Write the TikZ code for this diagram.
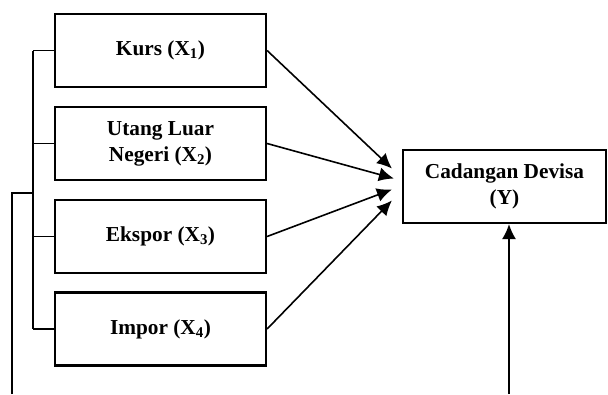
\documentclass[tikz,border=0pt]{standalone}
\usepackage{fontspec}
\setmainfont{Liberation Serif}
\usetikzlibrary{arrows.meta,calc}
\begin{document}
\begin{tikzpicture}[x=1pt,y=-1pt,
  box/.style={draw,line width=2.2pt,minimum width=211pt,minimum height=73pt,inner sep=0pt,align=center,font=\fontsize{21.3}{26}\selectfont\bfseries},
  ln/.style={line width=1.6pt},
  arr/.style={line width=1.6pt,-{Latex[length=15pt,width=14pt]}}]
\useasboundingbox (0,0) rectangle (608,394);
\node[box] (k) at (160.5,50.5) {Kurs (X\textsubscript{1})};
\node[box] (u) at (160.5,143.5) {Utang Luar\\Negeri (X\textsubscript{2})};
\node[box] (e) at (160.5,236.5) {Ekspor (X\textsubscript{3})};
\node[box] (i) at (160.5,329) {Impor (X\textsubscript{4})};
\node[box,minimum width=203pt] (y) at (504.5,186.5) {Cadangan Devisa\\(Y)};
% bracket
\coordinate (bt) at (33,50.5);
\coordinate (bb) at (33,329);
\coordinate (oj) at (33,193);
\coordinate (ob) at (12,394);
\coordinate (yb) at (509,394);
\draw[ln] (bt) -- (bb);
\draw[ln] (bt) -- (k.west);
\draw[ln] (bt |- u.west) -- (u.west);
\draw[ln] (bt |- e.west) -- (e.west);
\draw[ln] (bb) -- (i.west);
\draw[ln] (ob) |- (oj);
% arrows
\draw[arr] (k.east) -- ($(y.west)+(-10,-18)$);
\draw[arr] (u.east) -- ($(y.west)+(-8,-8)$);
\draw[arr] (e.east) -- ($(y.west)+(-10,3)$);
\draw[arr] (i.east) -- ($(y.west)+(-10,14)$);
\draw[arr] (yb) -- (yb |- y.south);
\end{tikzpicture}
\end{document}
